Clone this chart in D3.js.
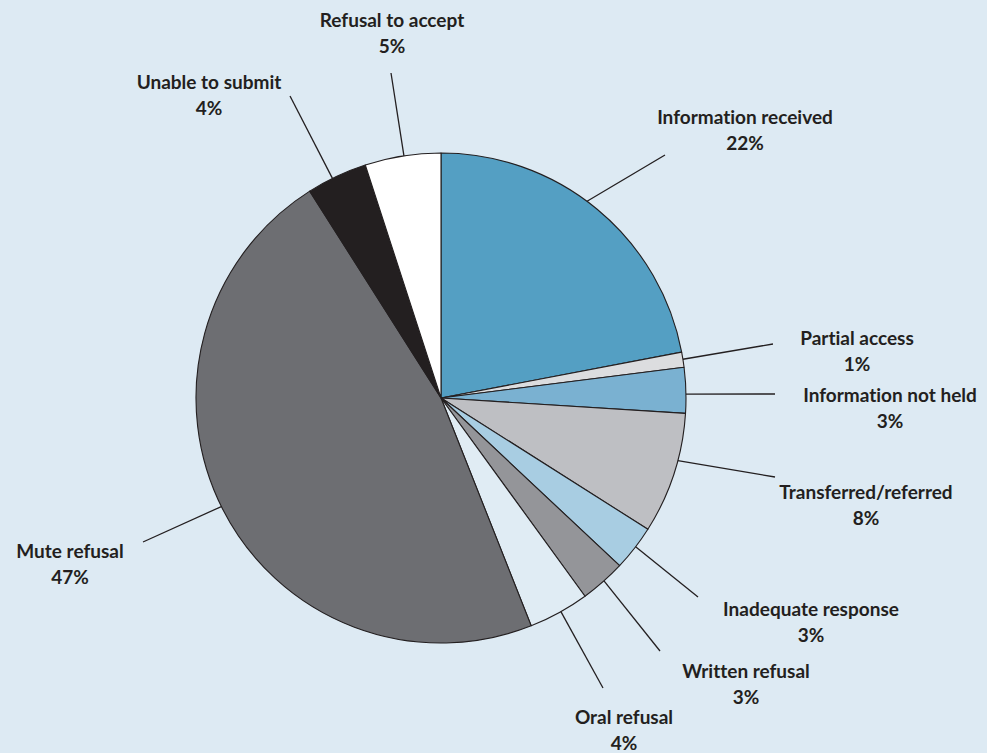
<!DOCTYPE html>
<html>
<head>
<meta charset="utf-8">
<script src="https://cdn.jsdelivr.net/npm/d3@7"></script>
<style>
  html, body { margin: 0; padding: 0; background: #ddeaf3; }
  svg { display: block; }
  text { font-family: Lato, "Open Sans", sans-serif; font-weight: 700; fill: #231f20;
         font-variant-ligatures: none; font-feature-settings: "liga" 0; }
</style>
</head>
<body>
<svg id="chart" width="987" height="753"></svg>
<script>
// Outcome categories, clockwise from 12 o'clock
const categories = [
  "Information received", "Partial access", "Information not held",
  "Transferred/referred", "Inadequate response", "Written refusal",
  "Oral refusal", "Mute refusal", "Unable to submit", "Refusal to accept"
];
// Share of requests, percent
const shares = [22, 1, 3, 8, 3, 3, 4, 47, 4, 5];
// Slice fills
const fills = [
  "#549fc3", "#dcdddf", "#7ab1d1", "#bebfc3", "#a8cde2", "#949599",
  "#e0ecf4", "#6d6e72", "#231f20", "#ffffff"
];

// Label placement: text centre (x, baseline of first line), leader's outer end,
// and the angle (degrees clockwise from top) where the leader meets the rim.
const labelLayout = [
  { tx: 745, ty: 124, lx: 665, ly: 155, rimDeg: 36.6 },
  { tx: 857, ty: 345, lx: 773, ly: 344, rimDeg: 80.9 },
  { tx: 890, ty: 402, lx: 775, ly: 394, rimDeg: 89.1 },
  { tx: 866, ty: 499, lx: 775, ly: 477, rimDeg: 104.8 },
  { tx: 811, ty: 616, lx: 698, ly: 597, rimDeg: 127.4 },
  { tx: 746, ty: 678, lx: 660, ly: 651, rimDeg: 138.3 },
  { tx: 624, ty: 724, lx: 603, ly: 688, rimDeg: 150.7 },
  { tx: 70,  ty: 558, lx: 143, ly: 542, rimDeg: 243.7 },
  { tx: 209, ty: 89,  lx: 290, ly: 96,  rimDeg: 333.7 },
  { tx: 392, ty: 27,  lx: 391, ly: 73,  rimDeg: 351.3 }
];

const data = categories.map((c, i) => ({ name: c, value: shares[i], fill: fills[i], layout: labelLayout[i] }));

const cx = 441, cy = 398, radius = 245, lineGap = 26;
const svg = d3.select("#chart");

const pie = d3.pie().value(d => d.value).sort(null);
const arc = d3.arc().innerRadius(0).outerRadius(radius);

const g = svg.append("g").attr("transform", `translate(${cx},${cy})`);

g.selectAll("path.slice")
  .data(pie(data))
  .join("path")
  .attr("class", "slice")
  .attr("d", arc)
  .attr("fill", d => d.data.fill)
  .attr("stroke", "#231f20")
  .attr("stroke-width", 1.1)
  .attr("stroke-linejoin", "round");

// Leader lines from rim to label
const rimPoint = deg => {
  const a = deg * Math.PI / 180;
  return [cx + radius * Math.sin(a), cy - radius * Math.cos(a)];
};

svg.selectAll("line.leader")
  .data(data)
  .join("line")
  .attr("class", "leader")
  .attr("x1", d => d.layout.lx)
  .attr("y1", d => d.layout.ly)
  .attr("x2", d => rimPoint(d.layout.rimDeg)[0])
  .attr("y2", d => rimPoint(d.layout.rimDeg)[1])
  .attr("stroke", "#231f20")
  .attr("stroke-width", 1.3);

const labels = svg.selectAll("text.label")
  .data(data)
  .join("text")
  .attr("class", "label")
  .attr("text-anchor", "middle")
  .attr("font-size", 19);

labels.append("tspan")
  .attr("x", d => d.layout.tx)
  .attr("y", d => d.layout.ty)
  .text(d => d.name);

labels.append("tspan")
  .attr("x", d => d.layout.tx)
  .attr("y", d => d.layout.ty + lineGap)
  .text(d => d.value + "%");
</script>
</body>
</html>
